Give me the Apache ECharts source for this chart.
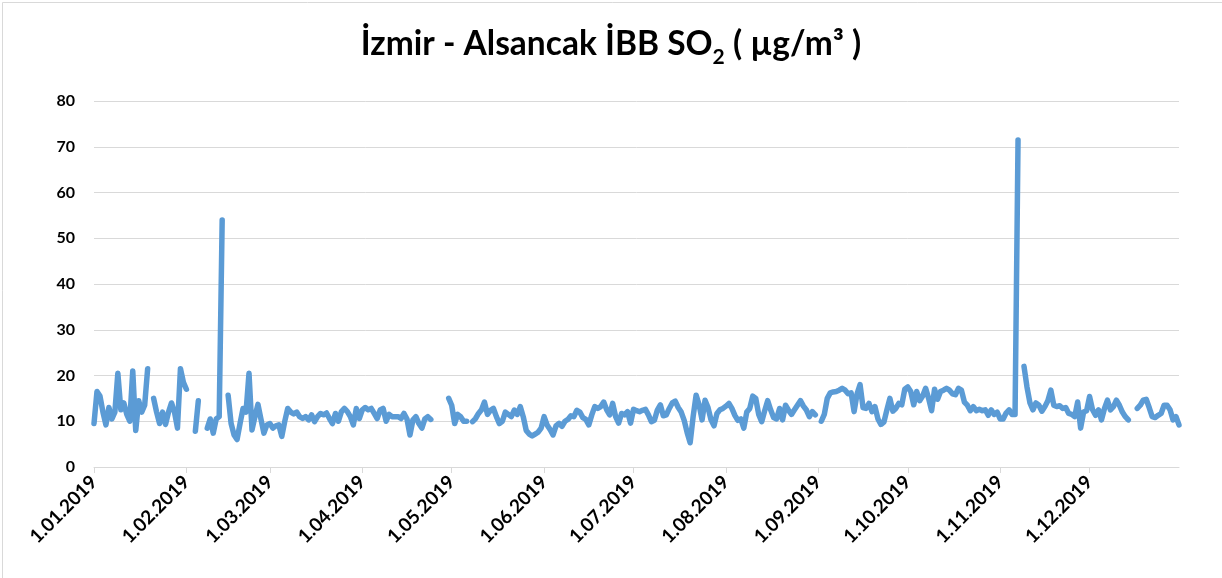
<!DOCTYPE html>
<html>
<head>
<meta charset="utf-8">
<script src="https://cdn.jsdelivr.net/npm/echarts@6/dist/echarts.min.js"></script>
<style>html,body{margin:0;padding:0;background:#fff}#c{width:1222px;height:578px}</style>
</head>
<body>
<div id="c"></div>
<script>
// Daily SO2 values (µg/m³), 2019, one array per month; null = missing day
const jan = [9.5,16.5,15.5,12,9.2,13,10.5,12,20.5,12.5,14,11.5,10,21,8,14.5,12,13.5,21.5,null,15,12,9.5,12,9.3,12,14,12,8.5,21.5,18.5];
const feb = [17,null,null,7.8,14.5,null,null,8.5,10.5,7.4,10.5,11,54,null,15.7,9.5,7,6,9.5,12.8,12,20.5,8.1,11,13.7,10.5,7.4,9.2];
const mar = [9.5,8.5,9,9.2,6.7,10,12.8,12,11.6,12,11,10.6,11.0,10.3,11.4,9.9,11.0,11.7,11.4,11.8,10.6,9.5,11.7,10.0,12.1,12.8,12.1,11.0,9.2,12.8,10.6];
const apr = [12.5,13.0,12.5,12.8,11.7,10.6,12.45,12.8,10.0,11.5,11.0,11.0,11.0,10.6,11.7,10.5,7.0,10.3,11.0,9.5,8.5,10.5,11.0,10.4,null,null,null,null,null,15.0];
const may = [13.5,9.5,11.5,11.0,10.0,10.0,null,9.9,10.6,11.7,12.5,14.2,11.5,12.4,12.8,11,9.5,10,12,11.5,11,12.45,11.5,13.2,11.0,8.0,7.2,6.8,7.2,7.6,8.5];
const jun = [11.0,9.2,8.2,7.0,9.0,9.55,8.9,10.0,10.4,11.2,11.0,12.4,12.0,10.8,10.4,9.2,11.4,13.2,12.8,13.2,14.2,12.5,11.4,13.9,11.0,9.6,11.7,11.4,12.1,9.6];
const jul = [12.6,12.3,12.1,12.4,12.6,11.4,9.9,10.2,12.45,13.6,11.2,11.4,12.8,14.0,14.4,13.0,12.0,10.2,7.5,5.3,11.0,15.7,13.6,10.3,14.6,13.0,10.3,9.0,11.7,12.5,12.8];
const aug = [13.3,13.9,12.8,11.3,10.2,10.5,8.5,12.0,12.8,15.5,15.0,11.5,9.9,12.3,14.5,12.5,10.8,10.5,12.8,10.3,13.5,12.4,11.5,12.5,13.5,14.5,13.3,12.45,11.0,12.1,11.4];
const sep = [null,10.0,11.5,15.0,16.2,16.4,16.5,16.8,17.2,16.8,16.0,16.2,12.1,16.0,18.0,13.0,12.8,13.9,12.1,13.2,10.5,9.3,9.8,12.5,15.0,12.2,12.8,13.9,13.6,17.0];
const oct = [17.5,16.5,13.6,16.5,14.5,15.5,17.2,15.0,12.3,17.0,14.8,16.5,16.8,17.2,16.8,16.0,15.8,17.2,16.8,14.2,13.5,12.3,13.2,12.3,12.6,12.3,12.5,11.3,12.5,11.5,12.0];
const nov = [10.5,10.5,11.8,12.5,11.5,11.5,71.5,null,22.0,17.5,14.0,12.5,14.0,13.5,12.2,13.2,14.5,16.8,13.5,13.2,13.4,12.8,13.0,11.7,11.5,11.0,14.2,8.5,12.0,12.3];
const dec = [15.4,12.5,11.3,12.5,10.3,12.8,14.6,12.5,13.2,14.6,13.5,12.0,11.0,10.3,null,null,12.8,13.5,14.6,14.8,13.0,11.0,10.8,11.3,11.7,13.5,13.5,12.5,10.3,11.0,9.2];

const tickLabels = ['1.01.2019','1.02.2019','1.03.2019','1.04.2019','1.05.2019','1.06.2019','1.07.2019','1.08.2019','1.09.2019','1.10.2019','1.11.2019','1.12.2019'];
const yTicks = [0,10,20,30,40,50,60,70,80];

const months = [jan,feb,mar,apr,may,jun,jul,aug,sep,oct,nov,dec];
const categories = [];
const values = [];
months.forEach((arr, m) => {
  arr.forEach((v, i) => {
    categories.push((i + 1) + '.' + String(m + 1).padStart(2, '0') + '.2019');
    values.push(v);
  });
});

const isTick = (idx, val) => tickLabels.includes(val);
const FONT = 'Lato';

const chart = echarts.init(document.getElementById('c'), null, {renderer: 'canvas'});
chart.setOption({
  backgroundColor: '#fff',
  animation: false,
  title: {
    left: 'center',
    top: 22,
    text: '{a|İzmir - Alsancak İBB SO}{s|2}{a| ( µg/m³ )}',
    textStyle: {
      rich: {
        a: {fontFamily: FONT, fontWeight: 'bold', fontSize: 33.5, color: '#000', verticalAlign: 'bottom'},
        s: {fontFamily: FONT, fontWeight: 'bold', fontSize: 21, color: '#000', verticalAlign: 'bottom', padding: [0, 0, -7, 0]}
      }
    }
  },
  graphic: [{
    type: 'rect', left: 0, top: 0, silent: true,
    shape: {x: 0.5, y: 0.5, width: 1221, height: 577},
    style: {fill: 'none', stroke: '#d9d9d9', lineWidth: 1}
  }],
  grid: {left: 94, right: 43, top: 101, bottom: 111, containLabel: false},
  xAxis: {
    type: 'category',
    data: categories,
    boundaryGap: false,
    axisLine: {lineStyle: {color: '#d9d9d9', width: 1}},
    axisTick: {show: true, interval: isTick, length: 6, lineStyle: {color: '#d9d9d9'}},
    axisLabel: {
      interval: isTick, rotate: 45, margin: 12,
      fontFamily: FONT, fontWeight: 'bold', fontSize: 19, color: '#000'
    },
    splitLine: {show: false}
  },
  yAxis: {
    type: 'value',
    min: yTicks[0], max: yTicks[yTicks.length - 1], interval: 10,
    axisLine: {show: false},
    axisTick: {show: false},
    axisLabel: {fontFamily: FONT, fontWeight: 'bold', fontSize: 16, color: '#000', margin: 19},
    splitLine: {lineStyle: {color: '#d9d9d9', width: 1}}
  },
  series: [{
    type: 'line',
    data: values,
    showSymbol: false,
    connectNulls: false,
    smooth: false,
    lineStyle: {color: '#5b9bd5', width: 5.5, cap: 'round', join: 'round'},
    itemStyle: {color: '#5b9bd5'}
  }]
});
</script>
</body>
</html>
